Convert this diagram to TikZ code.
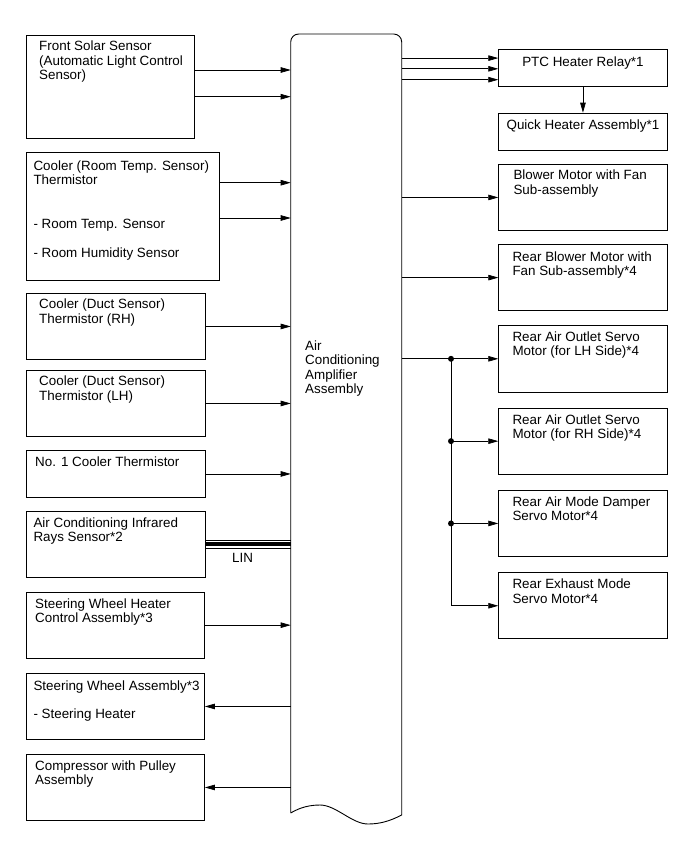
\documentclass[tikz,border=0pt]{standalone}
\usepackage{fontspec}
\setmainfont{Liberation Sans}
\usetikzlibrary{arrows.meta,positioning,calc}
\tikzset{
  box/.style={draw,line width=0.9pt,anchor=north west,inner sep=0pt},
  txt/.style={font=\fontsize{13.4}{14.4}\selectfont,align=left,inner sep=0pt,anchor=north west},
  ctxt/.style={txt,align=center,anchor=north},
  arr/.style={-{Triangle[length=10pt,width=5.5pt]},line width=0.7pt},
  wire/.style={line width=0.7pt},
  dot/.style={circle,fill,inner sep=0pt,minimum size=6pt},
}
\begin{document}
\begin{tikzpicture}[x=1pt,y=-1pt]
  \fill[white] (0,0) rectangle (690,854);
  \useasboundingbox (0,0) rectangle (690,854);

  % amplifier
  \node[anchor=north west,inner sep=0pt,minimum width=111pt,minimum height=781pt] (amp) at (290.7,34) {};
  \draw[line width=0.9pt] (290.7,813) [rounded corners=8pt] -- (290.7,34) -- (401.7,34) [sharp corners] -- (401.7,815)
    .. controls (390,821) and (380,824) .. (368,824)
    .. controls (352,824) and (336,805) .. (320,805)
    .. controls (305,805) and (296,810) .. (290.7,813);
  \node[txt] (amp-t) at (305,340.5) {Air\\Conditioning\\Amplifier\\Assembly};

  % inputs
  \node[box,minimum width=168.3pt,minimum height=102.7pt] (fss) at (25.7,35) {};
  \node[txt] (fss-t) at ([shift={(13.3,6)}]fss.north west) {Front Solar Sensor\\(Automatic Light Control\\Sensor)};
  \node[box,minimum width=193.3pt,minimum height=128.3pt] (crt) at (25.7,151.7) {};
  \node[txt] (crt-t) at ([shift={(7.6,8.8)}]crt.north west) {Cooler (Room Temp. Sensor)\\Thermistor\\[29pt]- Room Temp. Sensor\\[14.4pt]- Room Humidity Sensor};
  \node[box,minimum width=179.3pt,minimum height=66pt] (drh) at (25.7,293) {};
  \node[txt] (drh-t) at ([shift={(13.3,6)}]drh.north west) {Cooler (Duct Sensor)\\Thermistor (RH)};
  \node[box,minimum width=179.3pt,minimum height=66pt] (dlh) at (25.7,370) {};
  \node[txt] (dlh-t) at ([shift={(13.3,6)}]dlh.north west) {Cooler (Duct Sensor)\\Thermistor (LH)};
  \node[box,minimum width=179.3pt,minimum height=47pt] (no1) at (25.7,450) {};
  \node[txt] (no1-t) at ([shift={(9.3,6.5)}]no1.north west) {No. 1 Cooler Thermistor};
  \node[box,minimum width=179.3pt,minimum height=66pt] (inf) at (25.7,511) {};
  \node[txt] (inf-t) at ([shift={(7.6,6.5)}]inf.north west) {Air Conditioning Infrared\\Rays Sensor*2};
  \node[box,minimum width=178.3pt,minimum height=66pt] (swhc) at (25.7,591.7) {};
  \node[txt] (swhc-t) at ([shift={(9.3,6.5)}]swhc.north west) {Steering Wheel Heater\\Control Assembly*3};
  \node[box,minimum width=178.3pt,minimum height=66pt] (swa) at (25.7,673) {};
  \node[txt] (swa-t) at ([shift={(7.6,7.8)}]swa.north west) {Steering Wheel Assembly*3\\[13pt]- Steering Heater};
  \node[box,minimum width=178.3pt,minimum height=66pt] (comp) at (25.7,754) {};
  \node[txt] (comp-t) at ([shift={(9.3,6.5)}]comp.north west) {Compressor with Pulley\\Assembly};

  % outputs
  \node[box,minimum width=168.4pt,minimum height=36.7pt] (ptc) at (498.3,49.3) {};
  \node[ctxt] (ptc-t) at ([yshift=-7.2pt]ptc.north) {PTC Heater Relay*1};
  \node[box,minimum width=168.4pt,minimum height=37.3pt] (qha) at (498.3,112.7) {};
  \node[ctxt] (qha-t) at ([yshift=-7.2pt]qha.north) {Quick Heater Assembly*1};
  \node[box,minimum width=168.4pt,minimum height=66pt] (blw) at (498.3,164) {};
  \node[txt] (blw-t) at ([shift={(15,6)}]blw.north west) {Blower Motor with Fan\\Sub-assembly};
  \node[box,minimum width=168.4pt,minimum height=65.7pt] (rbl) at (498.3,244.3) {};
  \node[txt] (rbl-t) at ([shift={(14,7)}]rbl.north west) {Rear Blower Motor with\\Fan Sub-assembly*4};
  \node[box,minimum width=168.4pt,minimum height=66.7pt] (olh) at (498.3,325) {};
  \node[txt] (olh-t) at ([shift={(14,6.5)}]olh.north west) {Rear Air Outlet Servo\\Motor (for LH Side)*4};
  \node[box,minimum width=168.4pt,minimum height=66pt] (orh) at (498.3,407.7) {};
  \node[txt] (orh-t) at ([shift={(14,6.5)}]orh.north west) {Rear Air Outlet Servo\\Motor (for RH Side)*4};
  \node[box,minimum width=168.4pt,minimum height=66pt] (amd) at (498.3,490) {};
  \node[txt] (amd-t) at ([shift={(14,6.5)}]amd.north west) {Rear Air Mode Damper\\Servo Motor*4};
  \node[box,minimum width=168.4pt,minimum height=66pt] (exh) at (498.3,572.3) {};
  \node[txt] (exh-t) at ([shift={(14,6.5)}]exh.north west) {Rear Exhaust Mode\\Servo Motor*4};

  % input lines
  \coordinate (fss1) at ($(fss.north east)+(0,35)$);
  \coordinate (fss2) at ($(fss.north east)+(0,61.7)$);
  \coordinate (crt1) at ($(crt.north east)+(0,31)$);
  \coordinate (crt2) at ($(crt.north east)+(0,66.3)$);
  \draw[arr] (fss1) -- (fss1 -| amp.west);
  \draw[arr] (fss2) -- (fss2 -| amp.west);
  \draw[arr] (crt1) -- (crt1 -| amp.west);
  \draw[arr] (crt2) -- (crt2 -| amp.west);
  \draw[arr] (drh.east) -- (drh.east -| amp.west);
  \draw[arr] (dlh.east) -- (dlh.east -| amp.west);
  \draw[arr] (no1.east) -- (no1.east -| amp.west);
  \draw[arr] (swhc.east) -- (swhc.east -| amp.west);
  \draw[arr] (swa.east -| amp.west) -- (swa.east);
  \draw[arr] (comp.east -| amp.west) -- (comp.east);

  % LIN bus
  \draw[line width=4pt] (inf.east) -- (inf.east -| amp.west);
  \draw[wire] ([yshift=4.2pt]inf.east) -- ([yshift=4.2pt]inf.east -| amp.west);
  \draw[wire] ([yshift=-4.2pt]inf.east) -- ([yshift=-4.2pt]inf.east -| amp.west);
  \node[txt] (lin-t) at (232,553) {LIN};

  % output lines
  \coordinate (ptc1) at ([yshift=10pt]ptc.west);
  \coordinate (ptc2) at ([yshift=-0.7pt]ptc.west);
  \coordinate (ptc3) at ([yshift=-11.6pt]ptc.west);
  \draw[arr] (ptc1 -| amp.east) -- (ptc1);
  \draw[arr] (ptc2 -| amp.east) -- (ptc2);
  \draw[arr] (ptc3 -| amp.east) -- (ptc3);
  \draw[arr] (ptc.south) -- (qha.north);
  \draw[arr] (blw.west -| amp.east) -- (blw.west);
  \draw[arr] (rbl.west -| amp.east) -- (rbl.west);
  \draw[arr] (olh.west -| amp.east) -- (olh.west);

  % rear servo branch
  \coordinate (bus) at (451,0);
  \draw[wire] (bus |- olh.west) -- (bus |- exh.west);
  \draw[arr] (bus |- orh.west) -- (orh.west);
  \draw[arr] (bus |- amd.west) -- (amd.west);
  \draw[arr] (bus |- exh.west) -- (exh.west);
  \foreach \b in {olh,orh,amd}
    \node[dot] (dot-\b) at (bus |- \b.west) {};
\end{tikzpicture}
\end{document}
